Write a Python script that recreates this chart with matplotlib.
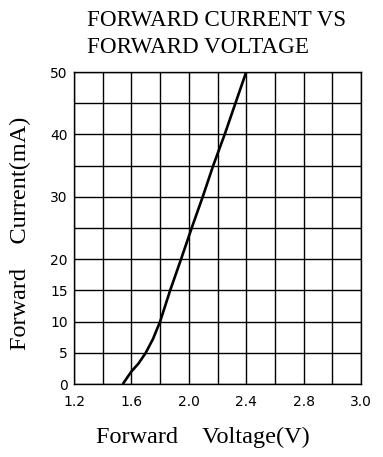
import matplotlib
matplotlib.use("Agg")
import matplotlib.pyplot as plt

# curve (x in grid units of 0.2 V from 1.2)
voltage = [1.54, 1.60, 1.65, 1.70, 1.75, 1.80, 1.87, 1.946, 2.02, 2.097, 2.17, 2.25, 2.325, 2.40]
current = [0.0, 2.0, 3.3, 5.0, 7.2, 10.0, 15.0, 20.0, 25.0, 30.0, 35.0, 40.0, 45.0, 50.0]

x_ticks = [1.2, 1.6, 2.0, 2.4, 2.8, 3.2]
x_labels = ["1.2", "1.6", "2.0", "2.4", "2.8", "3.0"]
y_ticks = [0, 5, 10, 15, 20, 30, 40, 50]
y_labels = ["0", "5", "10", "15", "20", "30", "40", "50"]

serif = "Liberation Serif"

fig = plt.figure(figsize=(3.83, 4.57), dpi=100)
ax = fig.add_axes([74 / 383, 1 - 384 / 457, 287 / 383, 312 / 457])

# grid
for i in range(11):
    ax.axvline(1.2 + 0.2 * i, color="black", lw=1.0, zorder=1)
    ax.axhline(5 * i, color="black", lw=1.0, zorder=1)

ax.plot(voltage, current, color="black", lw=1.9, zorder=3, solid_capstyle="butt")

ax.set_xlim(1.2, 3.2)
ax.set_ylim(0, 50)
ax.set_xticks(x_ticks)
ax.set_xticklabels(x_labels)
ax.set_yticks(y_ticks)
ax.set_yticklabels(y_labels)
ax.tick_params(axis="x", length=0, pad=8, labelsize=10)
ax.tick_params(axis="y", length=0, pad=4.5, labelsize=10)
for s in ax.spines.values():
    s.set_linewidth(1.0)

fig.text(87 / 383, 1 - 26 / 457, "FORWARD CURRENT VS", fontsize=16.6,
         family=serif, ha="left", va="baseline")
fig.text(87 / 383, 1 - 53 / 457, "FORWARD VOLTAGE", fontsize=16.6,
         family=serif, ha="left", va="baseline")

fig.text(96 / 383, 14 / 457, "Forward    Voltage(V)", fontsize=17.5,
         family=serif, ha="left", va="baseline")
fig.text(20 / 383, 1 - 350 / 457, "Forward    Current(mA)", fontsize=17.5,
         family=serif, rotation=90, ha="center", va="bottom")

fig.savefig("out.png", dpi=100)
